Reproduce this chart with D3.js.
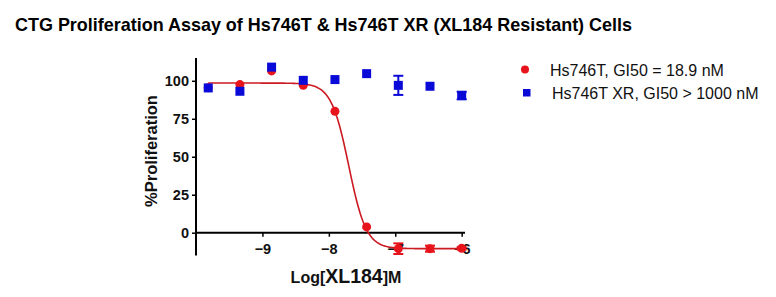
<!DOCTYPE html>
<html>
<head>
<meta charset="utf-8">
<script src="https://cdn.jsdelivr.net/npm/d3@7"></script>
<style>
  html, body { margin: 0; padding: 0; background: #fff; }
  svg { display: block; }
</style>
</head>
<body>
<svg id="chart" width="776" height="297"></svg>
<script>
// ---- data ----
const logConc = [-9.816, -9.339, -8.862, -8.385, -7.908, -7.431, -6.954, -6.477, -6.0];
const parentValues = [95.5, 97.5, 106.5, 97.0, 79.9, 3.8, -10.5, -10.5, -10.3];
const parentErr    = [0, 0, 0, 0, 0, 0, 3.5, 2.0, 0.8];
const resistantValues = [95.3, 93.1, 109.0, 100.3, 100.8, 104.7, 97.0, 96.4, 90.3];
const resistantErr    = [0, 0, 0, 0, 0, 0, 6.3, 0, 2.5];
// fitted 4-parameter logistic for Hs746T
const fitTop = 98.5, fitBottom = -10.5, fitLogEC50 = -7.70, fitHill = 3.3;
const xTicks = [-9, -8, -7, -6];
const yTicks = [0, 25, 50, 75, 100];
const legendLabels = ["Hs746T, GI50 = 18.9 nM", "Hs746T XR, GI50 > 1000 nM"];
const titleText = "CTG Proliferation Assay of Hs746T & Hs746T XR (XL184 Resistant) Cells";

const red = "#e8141c", curveRed = "#cc1a22", blue = "#0a0ad8";
const svg = d3.select("#chart");

const x = d3.scaleLinear().domain([-10, -5.95]).range([196, 465]);
const y = d3.scaleLinear().domain([-15, 115]).range([255.5, 58]);

const font = "'Liberation Sans', Arial, sans-serif";

// title
svg.append("text")
  .attr("x", 15).attr("y", 31)
  .attr("font-family", font)
  .attr("font-weight", "bold").attr("font-size", 18.5)
  .attr("textLength", 617).attr("lengthAdjust", "spacingAndGlyphs")
  .attr("fill", "#000")
  .text(titleText);

// y axis
const yAxis = d3.axisLeft(y).tickValues(yTicks).tickSize(4).tickPadding(3);
const gy = svg.append("g").attr("transform", `translate(${x(-10)},0)`).call(yAxis);
gy.select(".domain").attr("d", `M0,${y(115)}V${y(-15)}`).attr("stroke", "#000").attr("stroke-width", 2);
gy.selectAll(".tick line").attr("stroke", "#000").attr("stroke-width", 1.5);
gy.selectAll(".tick text").attr("font-family", font).attr("font-weight", "bold")
  .attr("font-size", 14.5).attr("fill", "#111");

// x axis at y = 0
const xAxis = d3.axisBottom(x).tickValues(xTicks).tickFormat(d3.format("d")).tickSize(4).tickPadding(7);
const gx = svg.append("g").attr("transform", `translate(0,${y(0)})`).call(xAxis);
gx.select(".domain").attr("d", `M${x(-10)},0H${x(-5.95)}`).attr("stroke", "#000").attr("stroke-width", 2);
gx.selectAll(".tick line").attr("stroke", "#000").attr("stroke-width", 1.5);
gx.selectAll(".tick text").attr("font-family", font).attr("font-weight", "bold")
  .attr("font-size", 14.5).attr("fill", "#111");

// axis titles
svg.append("text")
  .attr("transform", `translate(157,151) rotate(-90)`)
  .attr("text-anchor", "middle")
  .attr("font-family", font).attr("font-weight", "bold").attr("font-size", 16.5)
  .attr("fill", "#111")
  .text("%Proliferation");

const xl = svg.append("text")
  .attr("x", 346).attr("y", 283)
  .attr("text-anchor", "middle")
  .attr("font-family", font).attr("font-weight", "bold").attr("fill", "#111");
xl.append("tspan").attr("font-size", 16).text("Log[");
xl.append("tspan").attr("font-size", 19.5).text("XL184");
xl.append("tspan").attr("font-size", 16).text("]M");

// fitted curve
const curveX = d3.range(0, 201).map(i => logConc[0] + (logConc[logConc.length - 1] - logConc[0]) * i / 200);
const fit = v => fitBottom + (fitTop - fitBottom) / (1 + Math.pow(10, (v - fitLogEC50) * fitHill));
svg.append("path")
  .datum(curveX)
  .attr("d", d3.line().x(d => x(d)).y(d => y(fit(d))))
  .attr("fill", "none").attr("stroke", curveRed).attr("stroke-width", 1.6);

function errorBars(vals, errs, color) {
  const g = svg.append("g").attr("stroke", color).attr("stroke-width", 2);
  logConc.forEach((c, i) => {
    if (!errs[i]) return;
    const cx = x(c), y1 = y(vals[i] + errs[i]), y2 = y(vals[i] - errs[i]);
    g.append("line").attr("x1", cx).attr("x2", cx).attr("y1", y1).attr("y2", y2);
    g.append("line").attr("x1", cx - 5).attr("x2", cx + 5).attr("y1", y1).attr("y2", y1);
    g.append("line").attr("x1", cx - 5).attr("x2", cx + 5).attr("y1", y2).attr("y2", y2);
  });
}

// Hs746T (red circles)
errorBars(parentValues, parentErr, red);
svg.append("g").selectAll("circle").data(logConc).join("circle")
  .attr("cx", d => x(d)).attr("cy", (d, i) => y(parentValues[i]))
  .attr("r", 4.5).attr("fill", red);

// Hs746T XR (blue squares)
errorBars(resistantValues, resistantErr, blue);
const sq = 9;
svg.append("g").selectAll("rect").data(logConc).join("rect")
  .attr("x", d => x(d) - sq / 2).attr("y", (d, i) => y(resistantValues[i]) - sq / 2)
  .attr("width", sq).attr("height", sq).attr("fill", blue);

// legend
const lg = svg.append("g");
lg.append("circle").attr("cx", 525).attr("cy", 69.5).attr("r", 4).attr("fill", red);
lg.append("rect").attr("x", 523).attr("y", 89).attr("width", 7.5).attr("height", 7.5).attr("fill", blue);
lg.append("text").attr("x", 550).attr("y", 76)
  .attr("font-family", font).attr("font-size", 16).attr("fill", "#111").text(legendLabels[0]);
lg.append("text").attr("x", 552).attr("y", 99)
  .attr("font-family", font).attr("font-size", 16).attr("fill", "#111").text(legendLabels[1]);
</script>
</body>
</html>
